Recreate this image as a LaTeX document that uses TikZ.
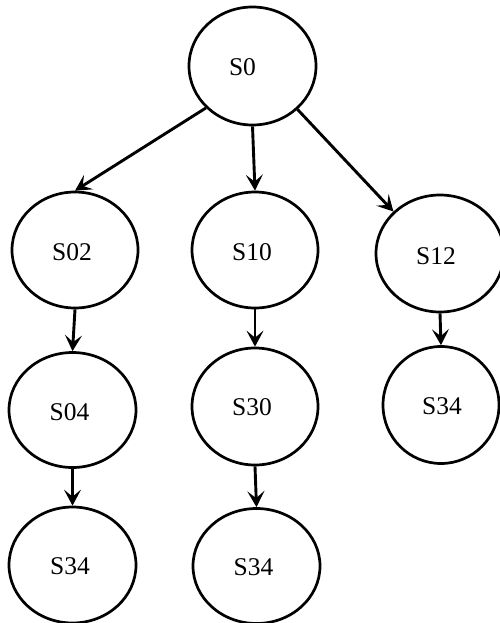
\documentclass[tikz,border=0pt]{standalone}
\usepackage{fontspec}
\setmainfont{Liberation Serif}
\usetikzlibrary{arrows.meta,shapes.geometric}
\begin{document}
\begin{tikzpicture}[x=1pt,y=-1pt,
  st/.style={draw=black, line width=2.7pt, ellipse, inner sep=0pt},
  lbl/.style={font=\fontsize{25.5}{30}\selectfont, inner sep=0pt, xshift=-3pt, yshift=-2pt},
  arr/.style={line width=2.9pt, -{Stealth[length=16pt,width=17pt,inset=7pt]}}]
\useasboundingbox (0,0) rectangle (499,623);
\node[st, minimum width=127pt, minimum height=118pt, label={[lbl,xshift=-7pt,yshift=1pt]center:S0}] (s0) at (252.5,66) {};
\node[st, minimum width=126pt, minimum height=116pt, label={[lbl]center:S02}] (s02) at (75,250) {};
\node[st, minimum width=126pt, minimum height=116pt, label={[lbl]center:S10}] (s10) at (255,250) {};
\node[st, minimum width=128pt, minimum height=117pt, label={[lbl,xshift=-1pt,yshift=-1pt]center:S12}] (s12) at (440,253.5) {};
\node[st, minimum width=127pt, minimum height=115pt, label={[lbl]center:S04}] (s04) at (72.5,410) {};
\node[st, minimum width=126pt, minimum height=117pt, label={[lbl,yshift=1pt]center:S30}] (s30) at (255,406.5) {};
\node[st, minimum width=116pt, minimum height=117pt, label={[lbl,xshift=4pt,yshift=1pt]center:S34}] (s34c) at (441,405) {};
\node[st, minimum width=127pt, minimum height=116pt, label={[lbl,xshift=0.5pt,yshift=0.5pt]center:S34}] (s34a) at (72.5,565) {};
\node[st, minimum width=127pt, minimum height=115pt, label={[lbl,yshift=0.5pt]center:S34}] (s34b) at (256.5,566) {};
\draw[arr] (s0.222.7) -- (s02.north);
\draw[arr] (s0.south) -- (s10.north);
\draw[arr] (s0.316.7) -- (s12.138);
\draw[arr] (s02.south) -- (s04.north);
\draw[arr] (s10.south) -- (s30.north);
\draw[arr] (s12.south) -- (s34c.north);
\draw[arr] (s04.south) -- (s34a.north);
\draw[arr] (s30.south) -- (s34b.north);
\end{tikzpicture}
\end{document}
